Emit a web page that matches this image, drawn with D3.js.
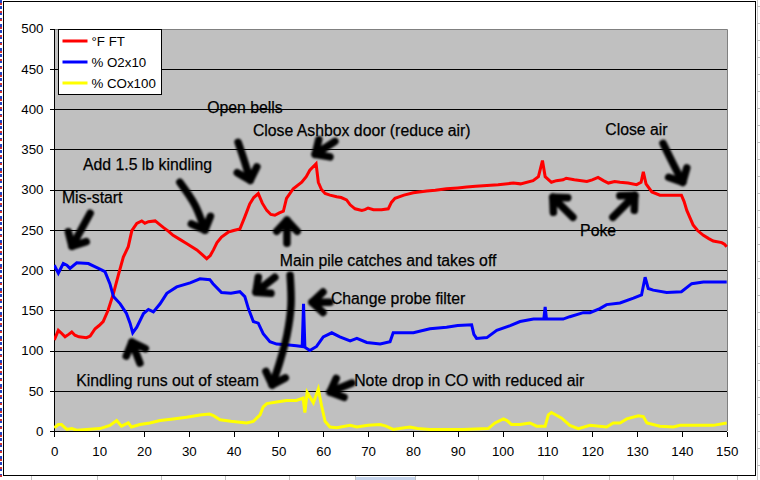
<!DOCTYPE html>
<html><head><meta charset="utf-8">
<script src="https://cdn.jsdelivr.net/npm/d3@7"></script>
<style>body{margin:0;background:#fff}svg{display:block;font-family:"Liberation Sans",Arial,sans-serif}</style>
</head><body><svg id="c" width="760" height="480"></svg>
<script>
// ---- data (minutes, value) ----
const redT = [0,0.9,1.5,2.4,3.2,3.9,4.6,5.5,7.2,8,9.1,10,10.9,12,13.2,14.3,15.4,16.5,17.3,18.4,19.5,20.2,21,22.5,23.4,24.3,25.5,26.5,28,29.5,31.8,33,34,34.8,35.5,36.3,37.3,38.8,40,41.4,42.5,43.6,44.5,45.5,46.4,47.4,48.3,49.2,50.2,51.1,51.8,53.3,55.2,56.2,57,58.4,58.9,59.6,60.4,61.5,63,64,65.2,66,67.1,68.6,69.3,70,71.2,73,74.5,75.2,76,78,80.1,83.1,85,87.5,90,92,94,96.5,99,102.4,104,106.8,108,108.9,109.5,110.9,112,113.5,114.2,116,118.8,120,121.3,122.5,123.6,125,126.2,128,129.9,130.9,131.4,132,133.3,135.1,137.3,139.9,140.5,141.1,142.5,143.5,144.8,146,147,148.9,149.5,150];
const redV = [113,125,122,117,120,123,119,117,116,118,127,131,136,150,171,194,216,229,249,258,261,258,260,261,257,253,248,243,238,233,225,219,214,218,225,234,241,247,249,251,266,282,290,295,283,274,269,268,271,273,289,301,309,316,324,332,309,300,295,293,291,290,287,281,276,274,275,277,275,275,276,284,289,293,296,298,299,301,302,303,304,305,306,308,307,311,316,336,316,309,311,312,314,312,310,312,315,311,308,310,309,308,306,309,322,307,297,293,293,293,285,274,256,249,243,239,236,234,232,229];

const blueT = [0,0.9,2,2.8,3.5,5,7.6,9.5,11.3,12.4,13.2,14.7,16.1,16.9,17.5,18.4,19.9,21,22.1,23.6,25.1,27.3,30.3,32.5,34.7,35.4,37.3,39.4,41.4,42.5,43.3,44.4,45.5,46.6,48.1,49.6,51.8,54,55.3,55.6,55.9,57,58.5,60,61.9,63.7,66,67.5,69.7,72.7,74.9,75.6,80.1,83.8,87.5,90,93.1,93.6,94.2,96.5,98.7,101.7,103.9,106.9,109.2,109.5,109.8,113.5,115,118,119.5,121.7,123.2,126.2,129.2,131,131.8,132.5,133.6,136.6,139.9,142.2,144.8,150];
const blueV = [206,196,208,206,202,209,208,203,198,183,167,158,146,134,122,129,146,151,148,158,171,179,184,189,188,183,172,171,173,167,152,136,134,121,111,108,107,106,105,158,104,100,105,117,122,117,112,115,110,108,111,122,122,127,129,131,132,120,115,116,125,131,136,139,139,154,139,139,142,147,147,152,157,159,165,169,191,177,175,172,173,183,185,185];

const coT = [0,0.9,1.6,2.8,3.9,5,7.2,10.2,12.4,13.9,15,16.5,17.2,19.1,21.3,23.6,26.5,29.5,32.5,34.6,35.5,37,39.4,42.9,44.4,45.9,46.6,47.4,49.6,51.8,54,55.5,55.9,56.4,57.8,58.9,59.6,60.4,61.5,63,66,67.5,70,72.7,74,75.6,77,79.3,81,83.8,91.2,96.8,98.3,100.2,101,102,103.9,106.1,107.6,109.5,110.2,110.9,113.2,115,116.9,119.5,123.2,124.7,126.2,127.7,130.3,131.4,132.2,135.1,138.1,139.6,147,150];
const coV = [4,8,8,2,3,1,2,3,7,13,6,10,5,8,10,13,15,17,20,21,19,14,12,10,12,20,30,34,36,38,38,41,23,48,35,52,32,12,5,4,7,5,7,8,6,2,3,5,3,2,2,3,10,15,13,8,8,10,6,6,20,23,16,7,3,7,5,10,10,15,19,18,10,6,5,7,7,10];

const seriesNames = ["\u00B0F FT", "% O2x10", "% COx100"];
const seriesColors = ["#ff0000", "#0000ff", "#ffff00"];
const xTicks = [0,10,20,30,40,50,60,70,80,90,100,110,120,130,140,150];
const yTicks = [0,50,100,150,200,250,300,350,400,450,500];

// annotations in data coordinates (minutes, value)
const noteText = ["Mis-start","Add 1.5 lb kindling","Open bells","Close Ashbox door (reduce air)","Main pile catches and takes off","Change probe filter","Kindling runs out of steam","Note drop in CO with reduced air","Close air","Poke"];
const noteAt = [[1.7,283],[6.4,324],[34.1,395],[44.3,367],[50.3,205],[61.7,158],[4.9,56],[66.9,56],[122.9,368],[117.3,242]];
const arrows = [
  [[8,270.5],[3.95,229.5]],
  [[28,309],[31.4,280.4],[33.6,249.4]],
  [[41,358.6],[42.5,333.7],[43.7,311.4]],
  [[62.6,359.8],[58.2,343.7]],
  [[51.9,233.3],[51.9,261.8]],
  [[49.2,191],[45,172.5]],
  [[52.6,193.5],[52.8,156.3],[51.9,119.1],[50.3,85.6],[48.6,57.1]],
  [[61.5,160],[57.5,160]],
  [[19.1,84.4],[17.3,110.4]],
  [[66.4,59.6],[61.5,48.4]],
  [[135.8,357.3],[138,332.5],[140.2,308.9]],
  [[115.7,265.5],[111.2,290.3]],
  [[124.6,265.5],[129.5,292.8]]
];

// ---- drawing ----
const svg = d3.select("#c");
const x = d3.scaleLinear().domain([0,150]).range([54.3,726.7]);
const y = d3.scaleLinear().domain([0,500]).range([431,28.5]);

const defs = svg.append("defs");
defs.append("filter").attr("id","soft").append("feGaussianBlur").attr("stdDeviation",0.9);

// spreadsheet surroundings
svg.append("rect").attr("width",760).attr("height",480).attr("fill","#fff");
svg.append("line").attr("x1",1).attr("x2",1).attr("y1",0).attr("y2",480).attr("stroke","#2040c0").attr("stroke-width",2).attr("stroke-dasharray","3,3");
svg.append("line").attr("x1",1).attr("x2",1).attr("y1",3).attr("y2",480).attr("stroke","#d03030").attr("stroke-width",2).attr("stroke-dasharray","2,6");
svg.append("line").attr("x1",757.5).attr("x2",757.5).attr("y1",0).attr("y2",480).attr("stroke","#c8c8c8");
for (let yy=6; yy<480; yy+=17) svg.append("line").attr("x1",757).attr("x2",760).attr("y1",yy+0.5).attr("y2",yy+0.5).attr("stroke","#c0c0c0");
svg.append("rect").attr("x",355).attr("y",477).attr("width",60).attr("height",3).attr("fill","#c6d5ec");
[31,97,161,225,289,355,415,478,543,609,673,737].forEach(v=>svg.append("line").attr("x1",v+0.5).attr("x2",v+0.5).attr("y1",476).attr("y2",480).attr("stroke","#c0c0c0"));
svg.append("rect").attr("x",3.5).attr("y",1.5).attr("width",752).attr("height",474).attr("fill","#fff").attr("stroke","#000");

// plot area
const px0 = Math.round(x(0)), px1 = Math.round(x(150)), py0 = Math.round(y(500)), py1 = Math.round(y(0));
svg.append("rect").attr("x",px0).attr("y",py0).attr("width",px1-px0).attr("height",py1-py0).attr("fill","#c0c0c0");
svg.append("path").attr("d",`M${px0},${py0+0.5}H${px1+0.5}V${py1}`).attr("fill","none").attr("stroke","#808080");
svg.append("g").selectAll("line").data(yTicks.filter(d=>d>0&&d<500)).join("line")
  .attr("x1",px0).attr("x2",px1).attr("y1",d=>Math.round(y(d))+0.5).attr("y2",d=>Math.round(y(d))+0.5)
  .attr("stroke","#000");

// axes
const yAxis = svg.append("g").attr("transform",`translate(${px0+0.5},0)`)
  .call(d3.axisLeft(y).tickValues(yTicks).tickSize(5).tickPadding(6).tickFormat(d3.format("d")));
const xAxis = svg.append("g").attr("transform",`translate(0,${py1+0.5})`)
  .call(d3.axisBottom(x).tickValues(xTicks).tickSize(5).tickPadding(10).tickFormat(d3.format("d")));
[yAxis,xAxis].forEach(g=>{
  g.selectAll("path").attr("stroke","#000").attr("shape-rendering","crispEdges");
  g.selectAll("line").attr("stroke","#000").attr("shape-rendering","crispEdges");
  g.selectAll("text").attr("fill","#000").style("font-size","13.3px").style("font-family","'Liberation Sans',Arial,sans-serif");
});
yAxis.select(".domain").attr("d",`M0,${py0}V${py1}`);
xAxis.select(".domain").attr("d",`M${px0},0H${px1}`);

// series
const data = [[redT,redV],[blueT,blueV],[coT,coV]];
const line = d3.line().x(d=>x(d[0])).y(d=>y(d[1]));
defs.append("clipPath").attr("id","pc").append("rect").attr("x",px0).attr("y",py0-3).attr("width",px1-px0+2).attr("height",py1-py0+3);
data.forEach(([T,V],i)=>{
  svg.append("path").attr("clip-path","url(#pc)").datum(T.map((t,j)=>[t,V[j]]))
    .attr("d",line).attr("fill","none").attr("stroke",seriesColors[i]).attr("stroke-width",3).attr("stroke-linejoin","miter");
});

// legend
const lg = svg.append("g");
lg.append("rect").attr("x",58.5).attr("y",29.5).attr("width",103).attr("height",65).attr("fill","#fff").attr("stroke","#000");
seriesNames.forEach((n,i)=>{
  const yy = 41 + i*21;
  lg.append("line").attr("x1",62.5).attr("x2",87.5).attr("y1",yy).attr("y2",yy).attr("stroke",seriesColors[i]).attr("stroke-width",3);
  lg.append("text").attr("x",91.5).attr("y",yy+4.8).text(n).style("font-size","13.3px").attr("fill","#000");
});

// annotations
const ann = svg.append("g");
noteText.forEach((t,i)=>{
  ann.append("text").attr("x",x(noteAt[i][0])).attr("y",y(noteAt[i][1])).text(t)
    .style("font-size","15.8px").attr("fill","#000").attr("stroke","#000").attr("stroke-width",0.25);
});
const ag = svg.append("g").attr("filter","url(#soft)").attr("fill","none").attr("stroke","#000")
  .attr("stroke-width",7.5).attr("stroke-linecap","round").attr("stroke-linejoin","round");
const shaft = d3.line().curve(d3.curveCatmullRom);
arrows.forEach(a=>{
  const p = a.map(d=>[x(d[0]),y(d[1])]);
  ag.append("path").attr("d",shaft(p));
  const tip = p[p.length-1], prev = p[p.length-2];
  const ang = Math.atan2(prev[1]-tip[1], prev[0]-tip[0]);
  const L = 15;
  const a1 = [tip[0]+L*Math.cos(ang+0.75), tip[1]+L*Math.sin(ang+0.75)];
  const a2 = [tip[0]+L*Math.cos(ang-0.75), tip[1]+L*Math.sin(ang-0.75)];
  ag.append("path").attr("d",`M${a1}L${tip}L${a2}`);
});
</script></body></html>
